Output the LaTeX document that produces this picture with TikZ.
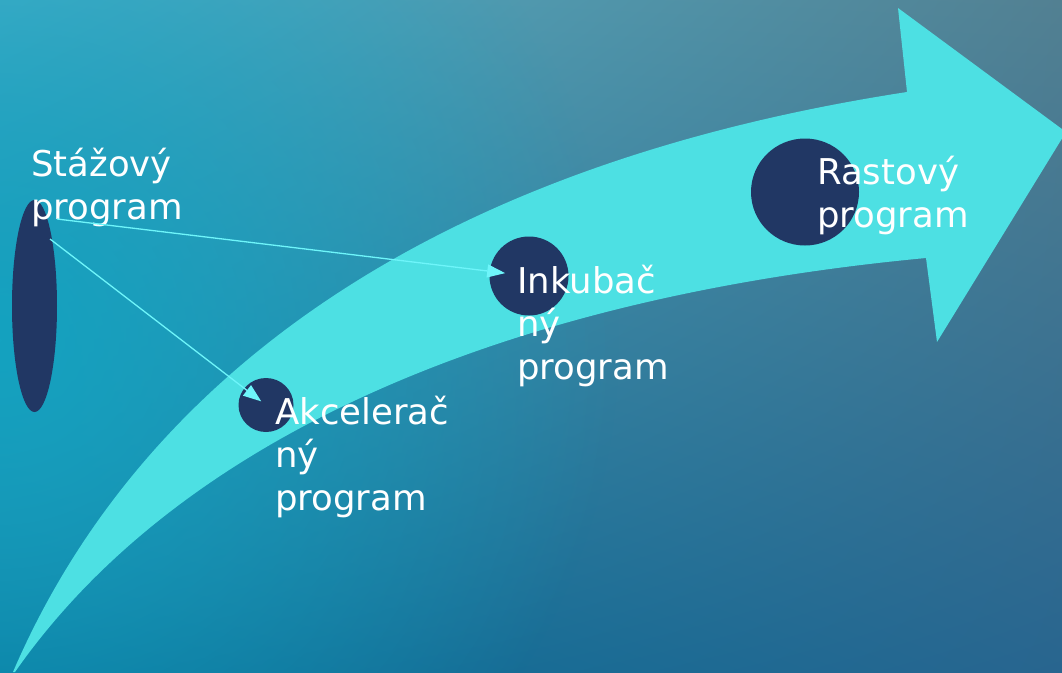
\documentclass[tikz,border=0pt]{standalone}
\usepackage{fontspec}
\setmainfont{DejaVu Sans}
\usetikzlibrary{
    arrows.meta,
    calc,
    fadings,
    shadings,
    shapes.geometric,
}

\definecolor{bgTL}{RGB}{78,176,201}
\definecolor{bgTR}{RGB}{82,128,146}
\definecolor{bgBL}{RGB}{8,115,155}
\definecolor{bgBR}{RGB}{40,101,143}
\definecolor{bgGlow}{RGB}{20,162,192}
\definecolor{swoosh}{RGB}{77,224,227}
\definecolor{dot}{RGB}{33,55,100}
\definecolor{linkcol}{RGB}{110,245,250}

\tikzfading[name=glowfade, inner color=transparent!0, outer color=transparent!100]

\begin{document}
\begin{tikzpicture}[
        x=1pt, y=-1pt,
        stage/.style={ellipse, fill=dot, inner sep=0pt},
        label/.style={anchor=north west, inner sep=0pt, align=left, text=white,
            font=\fontsize{35.5}{43}\selectfont},
        link/.style={draw=linkcol, line width=1.3pt, -{Triangle[length=18pt,width=13pt]}},
        ]
        % background
        \shade[upper left=bgTL, upper right=bgTR, lower left=bgBL, lower right=bgBR]
            (0,0) rectangle (1062,672);
        \begin{scope}
            \clip (0,0) rectangle (1062,672);
            \fill[bgGlow, path fading=glowfade] (0,340) ellipse [x radius=620, y radius=620];
        \end{scope}
        \useasboundingbox (0,0) rectangle (1062,672);
        % big curved arrow
        \fill[swoosh] (13,672) .. controls (130,400) and (400,170) .. (907,92)
            -- (898,8) -- (1066,132) -- (937,342) -- (926,258)
            .. controls (480,300) and (170,450) .. (15,672) -- cycle;
        % stages
        \node[stage, minimum width=45pt, minimum height=212pt] (stazovy)   at (34.5,306) {};
        \node[stage, minimum width=55pt, minimum height=54pt]  (akcelerac) at (266,405)  {};
        \node[stage, minimum width=79pt, minimum height=79pt]  (inkubac)   at (529,276)  {};
        \node[stage, minimum width=108pt, minimum height=107pt] (rastovy)  at (805,192)  {};
        % labels
        \node[label] (stazovyText)   at (31,147.7)  {Stážový\\program};
        \node[label] (akceleracText) at (275,395.7) {Akcelerač\\ný\\program};
        \node[label] (inkubacText)   at (517,264.7) {Inkubač\\ný\\program};
        \node[label] (rastovyText)   at (817,155.7) {Rastový\\program};
        % links
        \coordinate (fromTop) at (57,219);
        \coordinate (fromLow) at (50,239);
        \draw[link, shorten >=24pt] (fromTop) -- (inkubac.center);
        \draw[link, shorten >=6pt] (fromLow) -- (akcelerac.center);
    \end{tikzpicture}
\end{document}
